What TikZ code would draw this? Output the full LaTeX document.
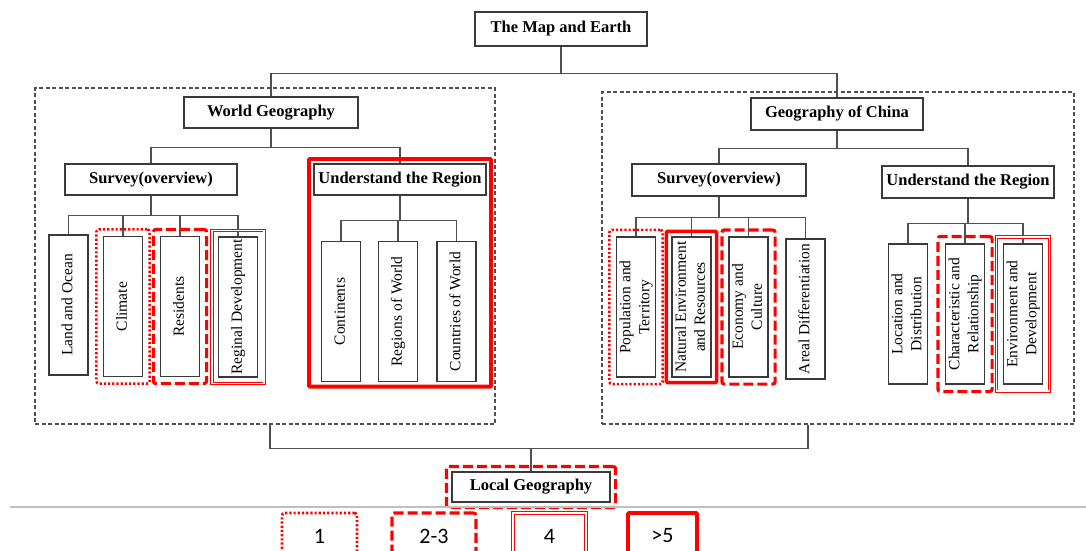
\documentclass[tikz,border=0pt]{standalone}
\usepackage{fontspec}
\setmainfont{Liberation Serif}
\newfontfamily\legendfont{Carlito}
\usepackage{graphicx}
\usetikzlibrary{fit}

\definecolor{boxgray}{HTML}{3A3A3A}
\definecolor{linegray}{HTML}{505050}
\definecolor{markred}{HTML}{FF0000}

\newcommand{\uptext}[1]{\rotatebox{90}{\begin{tabular}{@{}c@{}}#1\end{tabular}}}

\tikzset{
  titlebox/.style={draw=boxgray, line width=1.2pt, inner sep=0pt, minimum height=31pt,
    font=\bfseries\fontsize{16.5}{19}\selectfont},
  leaf/.style={draw=boxgray, line width=1.2pt, inner sep=0pt, minimum width=39pt,
    minimum height=140pt, font=\fontsize{15.5}{19}\selectfont},
  link/.style={draw=linegray, line width=1.1pt},
  groupbox/.style={draw=linegray, line width=1.1pt, dash pattern=on 4pt off 2.5pt},
  freqone/.style={draw=markred, line width=2.6pt, dash pattern=on 2.2pt off 2pt, rounded corners=2.5pt},
  freqtwo/.style={draw=markred, line width=3.2pt, dash pattern=on 10pt off 4pt, rounded corners=2.5pt},
  freqfour/.style={draw=markred, line width=0.8pt, double=white, double distance=1.6pt},
  freqfive/.style={draw=markred, line width=3.8pt, rounded corners=1pt},
  legendbox/.style={inner sep=0pt, minimum height=46pt, font=\legendfont\fontsize{22}{24}\selectfont}
}

\begin{document}
\begin{tikzpicture}[x=1pt, y=-1pt]

\useasboundingbox (0,0) rectangle (1086,550);
\clip (0,0) rectangle (1086,550);

% groups
\node[groupbox, minimum width=460pt, minimum height=336pt] (worldbox) at (265,256) {};
\node[groupbox, minimum width=472pt, minimum height=332pt] (chinabox) at (838,258) {};

% titles
\node[titlebox, minimum width=172pt, minimum height=34pt] (map) at (561,29) {The Map and Earth};
\node[titlebox, minimum width=174pt] (wg) at (271,112.5) {World Geography};
\node[titlebox, minimum width=172pt, minimum height=32pt] (gc) at (837,114) {Geography of China};
\node[titlebox, minimum width=172pt] (sl) at (151,179.5) {Survey(overview)};
\node[titlebox, minimum width=172pt] (ul) at (400,179.5) {Understand the Region};
\node[titlebox, minimum width=174pt, minimum height=32pt] (sr) at (719,180) {Survey(overview)};
\node[titlebox, minimum width=172pt, minimum height=32pt] (ur) at (968,182) {Understand the Region};
\node[titlebox, minimum width=158pt, minimum height=30pt] (local) at (531,487) {Local Geography};

% leaves, world
\node[leaf] (land) at (68.5,305) {\uptext{Land and Ocean}}; % Survey.1
\node[leaf] (climate) at (123,306.5) {\uptext{Climate}}; % Survey.2
\node[leaf] (residents) at (180,306.5) {\uptext{Residents}}; % Survey.3
\node[leaf] (reginal) at (238,307) {\uptext{Reginal Development}}; % Survey.4
\node[leaf] (continents) at (341,311.5) {\uptext{Continents}}; % Region.1
\node[leaf] (regions) at (398,311.5) {\uptext{Regions of World}}; % Region.2
\node[leaf] (countries) at (456.5,311.5) {\uptext{Countries of World}}; % Region.3

% leaves, china
\node[leaf] (pop) at (636,307) {\uptext{Population and\\Territory}}; % Survey.1
\node[leaf] (nat) at (691.5,307) {\uptext{Natural Environment\\and Resources}}; % Survey.2
\node[leaf] (econ) at (748.5,307) {\uptext{Economy and\\Culture}}; % Survey.3
\node[leaf] (areal) at (805.5,309) {\uptext{Areal Differentiation}}; % Survey.4
\node[leaf] (loc) at (908,314) {\uptext{Location and\\Distribution}}; % Region.1
\node[leaf] (char) at (965,314) {\uptext{Characteristic and\\Relationship}}; % Region.2
\node[leaf] (env) at (1023,314) {\uptext{Environment and\\Development}}; % Region.3

% connectors
\draw[link] (map.south) -- ++(0,27) coordinate (mapj);
\draw[link] (mapj) -| (wg.north);
\draw[link] (mapj) -| (gc.north);
\draw[link] (wg.south) -- ++(0,19) coordinate (wgj);
\draw[link] (wgj) -| (sl.north);
\draw[link] (wgj) -| (ul.north);
\draw[link] (gc.south) -- ++(0,18) coordinate (gcj);
\draw[link] (gcj) -| (sr.north);
\draw[link] (gcj) -| (ur.north);
\draw[link] (sl.south) -- ++(0,20) coordinate (slj);
\foreach \n in {land,climate,residents,reginal} \draw[link] (slj) -| (\n.north);
\draw[link] (ul.south) -- ++(0,25) coordinate (ulj);
\foreach \n in {continents,regions,countries} \draw[link] (ulj) -| (\n.north);
\draw[link] (sr.south) -- ++(0,21) coordinate (srj);
\foreach \n in {pop,nat,econ,areal} \draw[link] (srj) -| (\n.north);
\draw[link] (ur.south) -- ++(0,25) coordinate (urj);
\foreach \n in {loc,char,env} \draw[link] (urj) -| (\n.north);
\draw[link] (local.north) -- ++(0,-23) coordinate (localj);
\draw[link] ([xshift=5pt]worldbox.south) |- (localj) -| ([xshift=-30pt]chinabox.south);

% frequency marks
\node[freqone, fit=(climate), inner sep=6.5pt] {};
\node[freqtwo, fit=(residents), inner sep=6.5pt] {};
\node[freqfour, fit=(reginal), inner sep=6pt] {};
\node[freqfive, fit=(ul)(continents)(countries), inner sep=4.5pt] {};
\node[freqone, fit=(pop), inner sep=6.5pt] {};
\node[freqfive, line width=3.4pt, fit=(nat), inner sep=5pt] {};
\node[freqtwo, fit=(econ), inner sep=6.5pt] {};
\node[freqtwo, fit=(char), inner sep=7pt] {};
\node[freqfour, fit=(env), inner sep=6.5pt] {};
\node[freqtwo, fit=(local), inner sep=5pt] {};

% legend
\draw[draw=black!25, line width=1.2pt] (10,507) -- (1086,507);
\node[legendbox, freqone, minimum width=75pt] (keyone) at (319.5,536) {1};
\node[legendbox, freqtwo, minimum width=84pt] (keytwo) at (434,536) {2-3};
\node[legendbox, freqfour, minimum width=73pt] (keyfour) at (549.5,536) {4};
\node[legendbox, freqfive, minimum width=69pt] (keyfive) at (662.5,536) {>5};

\end{tikzpicture}
\end{document}
